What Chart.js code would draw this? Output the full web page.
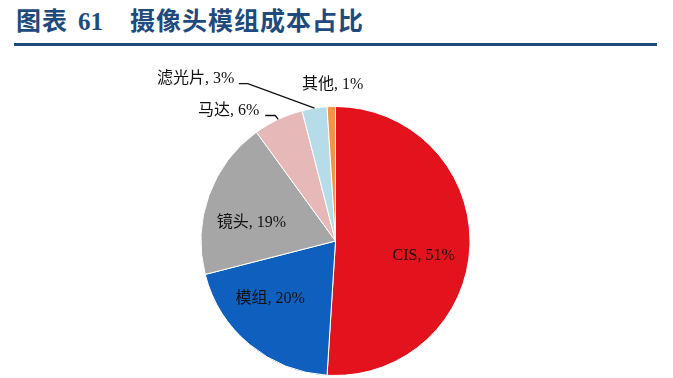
<!DOCTYPE html>
<html><head><meta charset="utf-8">
<script src="https://cdn.jsdelivr.net/npm/chart.js@4"></script>
<style>
html,body{margin:0;padding:0;background:#fff;}
#wrap{position:relative;width:673px;height:378px;overflow:hidden;}
#title{position:absolute;left:16px;top:7px;font:bold 25px 'Liberation Serif','Noto Sans CJK SC',serif;color:#1f4a7e;line-height:30px;white-space:nowrap;letter-spacing:1px;}
#title .num{margin-left:10px;margin-right:27px;letter-spacing:0;}
#rule{position:absolute;left:14px;top:43px;width:643px;height:3px;background:#1f4a7e;}
#c{position:absolute;left:0;top:0;}
</style></head>
<body><div id="wrap">
<div id="title">图表<span class="num">61</span>摄像头模组成本占比</div>
<div id="rule"></div>
<canvas id="c" width="673" height="378"></canvas>
</div>
<script>
const categories = ['CIS', '模组', '镜头', '马达', '滤光片', '其他'];
const shares = [51, 20, 19, 6, 3, 1];
const colors = ['#e3131e', '#0f5fbf', '#a6a6a6', '#e7b8b8', '#b5dce8', '#f59245'];

// label anchor: fraction of radius from centre, text alignment
const labelPlace = [
  {fx: 0.656, fy: 0.111, align: 'center'},
  {fx: -0.485, fy: 0.43, align: 'center'},
  {fx: -0.626, fy: -0.133, align: 'center'},
  {fx: -0.567, fy: -0.97, align: 'right', leader: [[0.044, 0.037], [0.119, 0.037]]},
  {fx: -0.752, fy: -1.207, align: 'right', leader: [[0.033, 0.037], [0.1, 0.037]]},
  {fx: -0.022, fy: -1.163, align: 'center'}
];

const labelPlugin = {
  id: 'pieLabels',
  afterDatasetsDraw(chart) {
    const ctx = chart.ctx;
    const meta = chart.getDatasetMeta(0);
    ctx.save();
    ctx.font = "16px 'Liberation Serif','Noto Sans CJK SC',serif";
    ctx.fillStyle = '#111';
    ctx.strokeStyle = '#111';
    ctx.lineWidth = 1.3;
    ctx.textBaseline = 'middle';
    meta.data.forEach((arc, i) => {
      const p = arc.getProps(['x', 'y', 'startAngle', 'endAngle', 'outerRadius'], true);
      const r = p.outerRadius;
      const pl = labelPlace[i];
      const tx = p.x + pl.fx * r, ty = p.y + pl.fy * r;
      ctx.textAlign = pl.align;
      ctx.fillText(categories[i] + ', ' + shares[i] + '%', tx, ty);
      if (pl.leader) {
        const mid = (p.startAngle + p.endAngle) / 2;
        const ex = p.x + Math.cos(mid) * r, ey = p.y + Math.sin(mid) * r;
        ctx.beginPath();
        ctx.moveTo(tx + pl.leader[0][0] * r, ty + pl.leader[0][1] * r);
        ctx.lineTo(tx + pl.leader[1][0] * r, ty + pl.leader[1][1] * r);
        ctx.lineTo(ex, ey);
        ctx.stroke();
      }
    });
    ctx.restore();
  }
};

new Chart(document.getElementById('c'), {
  type: 'pie',
  data: {
    labels: categories,
    datasets: [{data: shares, backgroundColor: colors, borderColor: '#ffffff', borderWidth: 1}]
  },
  options: {
    responsive: false,
    animation: false,
    layout: {padding: {top: 106, bottom: 2, left: 0, right: 2}},
    plugins: {legend: {display: false}, tooltip: {enabled: false}}
  },
  plugins: [labelPlugin]
});
</script>
</body></html>
